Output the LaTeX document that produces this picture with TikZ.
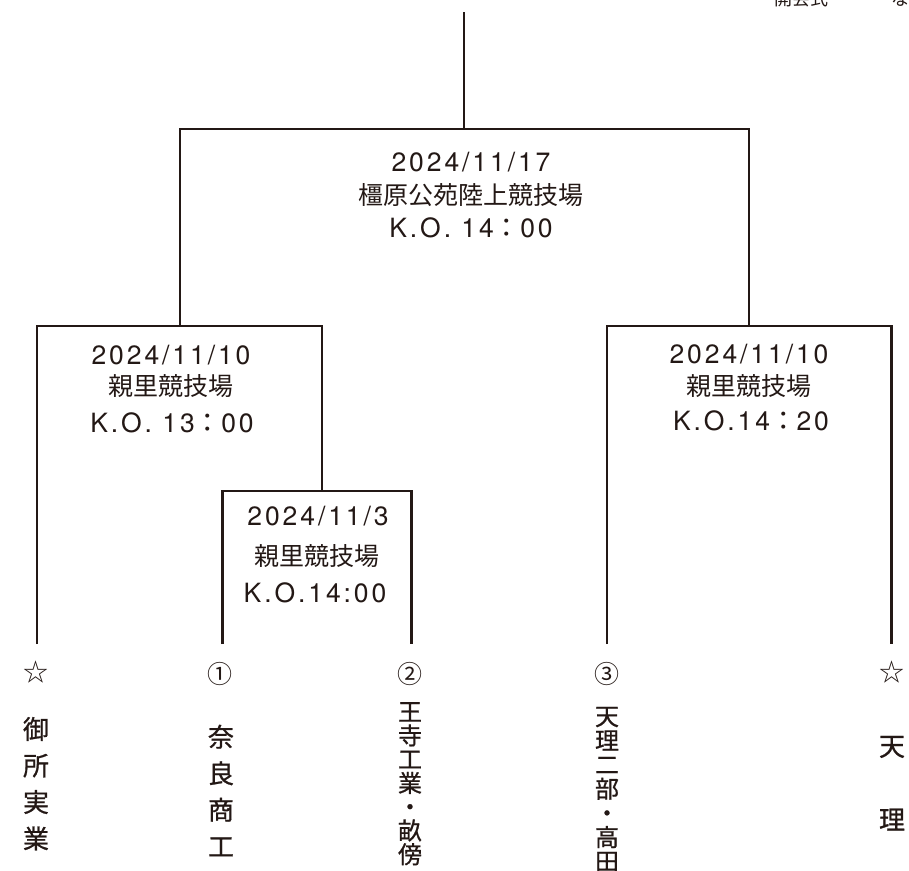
\documentclass[tikz,border=0pt]{standalone}
\usepackage{fontspec}
\setmainfont{TeX Gyre Heros}
\newfontfamily\jpfont{Noto Sans CJK JP}
\newfontfamily\jpteam[FakeBold=0.8]{Noto Sans CJK JP}
\newfontfamily\latfont[LetterSpace=11]{TeX Gyre Heros}
\definecolor{ink}{RGB}{35,24,21}
\newcommand{\fwc}{{\jpfont ：}}
\begin{document}
\begin{tikzpicture}[x=1pt,y=-1pt,
  line/.style={draw=ink,line width=2.6pt},
  date/.style={text=ink,inner sep=0pt,anchor=base,font=\latfont\fontsize{26.5}{30}\selectfont},
  venue/.style={text=ink,inner sep=0pt,anchor=center,font=\jpfont\fontsize{25}{30}\selectfont},
  ko/.style={text=ink,inner sep=0pt,anchor=base,font=\latfont\fontsize{26.5}{30}\selectfont},
  seed/.style={text=ink,inner sep=0pt,anchor=center,font=\jpfont\fontsize{25}{30}\selectfont},
  teamwide/.style={text=ink,inner sep=0pt,anchor=center,align=center,font=\jpteam\fontsize{26}{36.5}\selectfont},
  teamtight/.style={text=ink,inner sep=0pt,anchor=center,align=center,font=\jpteam\fontsize{24}{#1}\selectfont},
  headtext/.style={text=ink,inner sep=0pt,anchor=center,font=\jpfont\fontsize{18}{20}\selectfont}
]
\useasboundingbox (0,0) rectangle (909,870);

% top partial texts
\node[headtext] (kaikai) at (801,-1.5) {開会式};
\node[headtext] (na) at (900,-1.5) {な};

% bracket coordinates
\coordinate (top) at (464,12);
\coordinate (fin) at (464,129);
\coordinate (jL) at (180,326);
\coordinate (jR) at (749,326);
\coordinate (m1) at (322,491);
\coordinate (eA) at (37,644);
\coordinate (e1) at (222.7,644);
\coordinate (e2) at (411.7,644);
\coordinate (e3) at (607,644);
\coordinate (eB) at (891.7,644);

% connectors
\draw[line] (top) -- (fin);
\draw[line] (jL) |- (fin) -| (jR);
\draw[line] (eA) |- (jL) -| (m1);
\draw[line] (e1) |- (m1) -| (e2);
\draw[line] (e3) |- (jR) -| (eB);

% final
\node[date] (fdate) at (471,171.7) {2024/11/17};
\node[venue] (fvenue) at (471,195) {橿原公苑陸上競技場};
\node[ko] (fko) at (471,237) {K.O.\ 14\fwc00};

% left semifinal
\node[date] (ldate) at (171,364) {2024/11/10};
\node[venue] (lvenue) at (171,386.5) {親里競技場};
\node[ko] (lko) at (172,432) {K.O.\ 13\fwc00};

% right semifinal
\node[date] (rdate) at (749,363.5) {2024/11/10};
\node[venue] (rvenue) at (749,386.5) {親里競技場};
\node[ko] (rko) at (751,430) {K.O.14\fwc20};

% first round
\node[date] (qdate) at (318,525) {2024/11/3};
\node[venue] (qvenue) at (317,556) {親里競技場};
\node[ko] (qko) at (315,602) {K.O.14:00};

% seeds
\node[seed] (sA) at (36,672) {☆};
\node[seed] (s1) at (220,674) {①};
\node[seed] (s2) at (410,674) {②};
\node[seed] (s3) at (607,674) {③};
\node[seed] (sB) at (892,672) {☆};

% teams
\node[teamwide] (tA) at (36,783.75) {御\\所\\実\\業};
\node[teamwide] (t1) at (221,790.5) {奈\\良\\商\\工};
\node[teamtight=23.75] (t2) at (410,783.75) {王\\寺\\工\\業\\・\\畝\\傍};
\node[teamtight=24.2] (t3) at (607,789.5) {天\\理\\二\\部\\・\\高\\田};
\node[text=ink,inner sep=0pt,anchor=center,align=center,font=\jpteam\fontsize{26}{73.5}\selectfont] (tB) at (892,783.25) {天\\理};
\end{tikzpicture}
\end{document}
